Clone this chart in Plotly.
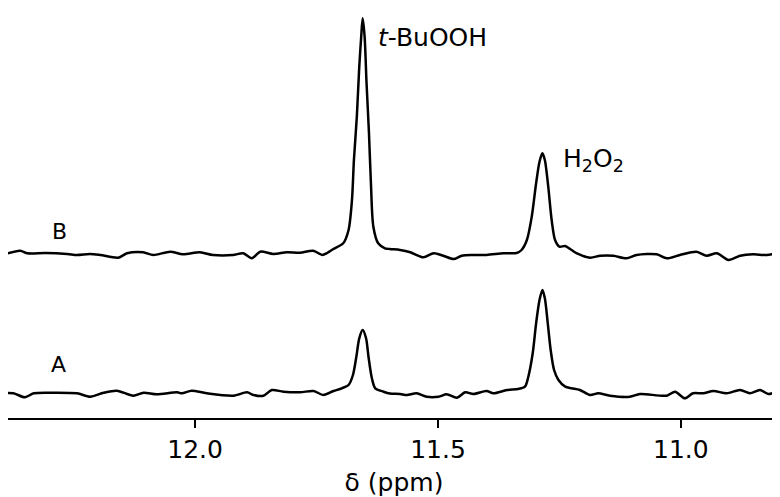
# 1H NMR spectra A and B (stacked), hydroperoxide region
import plotly.graph_objects as go

# trace A: chemical shift (ppm) and intensity (a.u.)
ppm_a = [12.401, 12.374, 12.350, 12.332, 12.298, 12.243, 12.216, 12.188, 12.161, 12.127,
         12.106, 12.079, 12.037, 12.027, 12.007, 11.976, 11.921, 11.893, 11.880, 11.859,
         11.842, 11.818, 11.784, 11.756, 11.736, 11.715, 11.698, 11.684, 11.675, 11.668,
         11.662, 11.655, 11.648, 11.643, 11.636, 11.629, 11.612, 11.599, 11.578, 11.564,
         11.544, 11.523, 11.499, 11.482, 11.461, 11.444, 11.427, 11.400, 11.386, 11.358,
         11.335, 11.321, 11.314, 11.305, 11.298, 11.291, 11.285, 11.280, 11.274, 11.268,
         11.261, 11.252, 11.238, 11.225, 11.208, 11.187, 11.170, 11.146, 11.105, 11.084,
         11.029, 11.012, 10.992, 10.975, 10.954, 10.933, 10.906, 10.878, 10.858, 10.837,
         10.820, 10.800]
int_a = [-0.3, -0.3, -4.3, -0.3, 0.3, -0.3, -3.7, 0.3, 2.3, -2.7,
         0.3, -1.3, 0.7, -0.3, 2.3, -0.3, -2.7, 0.7, -2.0, -2.7,
         3.0, 1.3, 0.7, 2.0, -2.0, 2.0, 4.7, 8.0, 18.0, 36.3,
         54.7, 63.0, 54.7, 36.3, 14.7, 4.7, 1.3, -0.5, -1.0, -2.0,
         -0.3, -3.7, -3.7, -1.3, -4.7, 0.7, -1.0, 2.0, -0.3, 3.0,
         4.0, 6.3, 16.3, 39.7, 69.7, 93.0, 103.0, 94.7, 69.7, 43.0,
         23.0, 13.0, 6.3, 4.7, 3.0, -2.0, -0.3, -2.7, -3.7, -1.0,
         -2.7, 1.3, -5.3, -0.3, -0.3, 2.0, -0.3, 3.0, -0.3, 3.0,
         -1.0, 2.0]

# trace B: chemical shift (ppm) and intensity (a.u.)
ppm_b = [12.401, 12.360, 12.345, 12.308, 12.263, 12.243, 12.216, 12.195, 12.158, 12.140,
         12.107, 12.086, 12.051, 12.025, 11.990, 11.963, 11.922, 11.901, 11.883, 11.866,
         11.839, 11.811, 11.784, 11.757, 11.738, 11.728, 11.716, 11.695, 11.684, 11.677,
         11.673, 11.667, 11.662, 11.658, 11.655, 11.651, 11.647, 11.642, 11.638, 11.633,
         11.623, 11.609, 11.599, 11.578, 11.557, 11.530, 11.509, 11.489, 11.468, 11.451,
         11.427, 11.400, 11.365, 11.338, 11.328, 11.317, 11.307, 11.298, 11.291, 11.285,
         11.280, 11.273, 11.266, 11.259, 11.250, 11.238, 11.225, 11.214, 11.187, 11.166,
         11.139, 11.112, 11.091, 11.050, 11.029, 11.002, 10.968, 10.947, 10.926, 10.902,
         10.878, 10.851, 10.823, 10.796]
int_b = [-2.7, 2.3, -0.3, 0.0, -1.0, -2.0, -1.0, -2.0, -4.7, -0.3,
         0.7, -2.0, 1.3, -1.3, 0.7, -2.0, -2.0, -0.3, -5.3, 1.3,
         -1.0, 0.7, 0.3, 2.3, -2.0, 0.0, 3.7, 9.7, 23.0, 53.0,
         93.0, 136.3, 186.3, 216.3, 234.7, 216.3, 169.7, 119.7, 69.7, 26.3,
         9.7, 4.7, 4.0, 3.0, 0.7, -4.3, -0.3, -2.7, -6.0, -2.7,
         -2.0, -2.0, -0.3, 0.0, 3.0, 13.0, 36.3, 69.7, 91.3, 99.7,
         93.0, 66.3, 33.0, 13.0, 6.3, 7.0, 3.0, -0.3, -4.7, -2.7,
         -2.7, -5.3, -2.0, -1.3, -5.3, -2.0, 1.3, -2.7, -0.3, -7.0,
         -2.7, -1.3, -2.0, 0.7]
B_OFFSET = 140

x_ticks = [12.0, 11.5, 11.0]
x_ticktext = ["12.0", "11.5", "11.0"]

FONT = "DejaVu Sans"

fig = go.Figure()
fig.add_trace(go.Scatter(x=ppm_a, y=int_a, mode="lines",
                         line=dict(color="black", width=2.5, shape="spline", smoothing=0.8)))
fig.add_trace(go.Scatter(x=ppm_b, y=[v + B_OFFSET for v in int_b], mode="lines",
                         line=dict(color="black", width=2.5, shape="spline", smoothing=0.8)))

# labels
fig.add_annotation(x=12.280, y=162, text="B", showarrow=False, font=dict(size=22))
fig.add_annotation(x=12.282, y=29, text="A", showarrow=False, font=dict(size=22))
fig.add_annotation(x=11.627, y=356, text="<i>t</i>-BuOOH", showarrow=False,
                   xanchor="left", font=dict(size=25))
fig.add_annotation(x=11.247, y=233, text="H<sub>2</sub>O<sub>2</sub>", showarrow=False,
                   xanchor="left", font=dict(size=25))

# page body adds an 8px margin, so the figure is 8px smaller and the range starts a bit in
fig.update_layout(
    width=772, height=489,
    margin=dict(l=0, r=0, t=0, b=79, autoexpand=False),
    paper_bgcolor="white", plot_bgcolor="white",
    showlegend=False,
    font=dict(family=FONT, size=25, color="black"),
    xaxis=dict(range=[12.385, 10.796], showgrid=False, zeroline=False,
               showline=True, linecolor="black", linewidth=2,
               ticks="outside", ticklen=8, tickwidth=2, tickcolor="black",
               tickvals=x_ticks, ticktext=x_ticktext,
               tickfont=dict(size=25),
               title=dict(text="δ (ppm)", font=dict(size=25), standoff=10)),
    yaxis=dict(range=[-25, 385], visible=False),
)

fig.write_html("out.html")
